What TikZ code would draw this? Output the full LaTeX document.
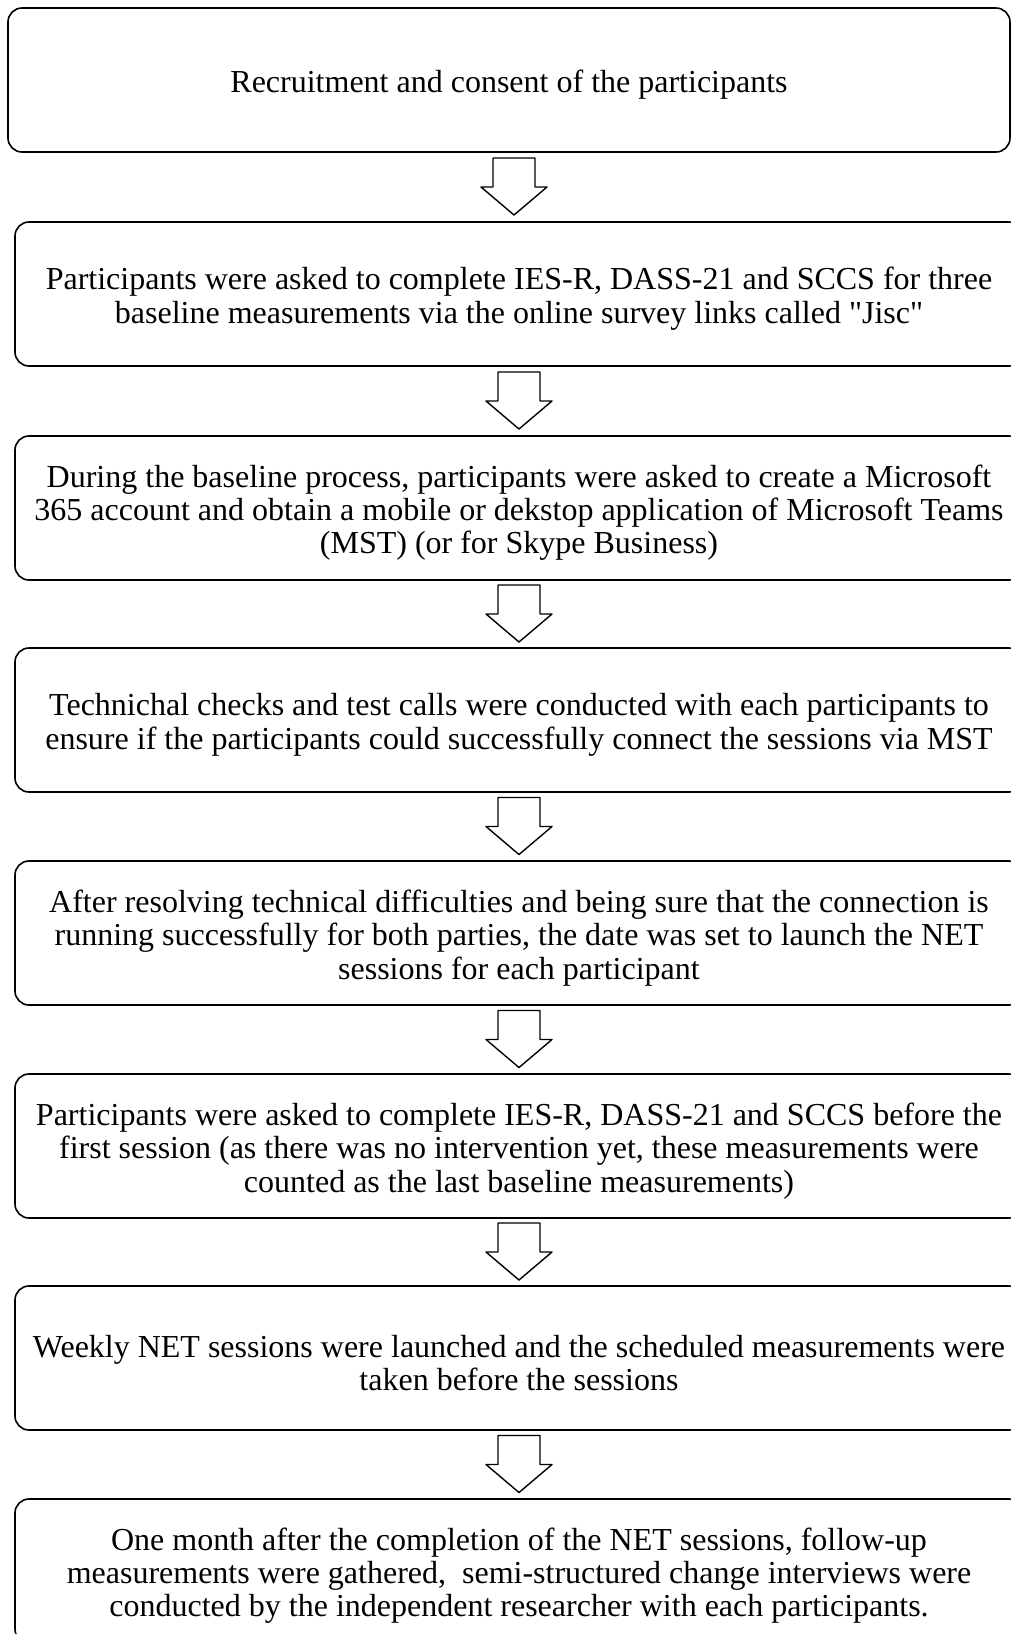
\documentclass[tikz,border=0pt]{standalone}
\usepackage{fontspec}
\setmainfont{Liberation Serif}[Ligatures=TeXOff]
\usetikzlibrary{calc, positioning}

\newcommand{\topgap}{\rule{0pt}{32pt}}
\tikzset{
  stepbox/.style={draw, line width=1.6pt, rounded corners=14pt, minimum width=1008pt, minimum height=144pt, align=center, inner sep=0pt, font=\fontsize{32}{33.4}\selectfont},
  blockarrow/.style={draw, line width=1.4pt, line join=round}
}

\begin{document}
\begin{tikzpicture}[x=1pt,y=-1pt]

            % Khung trang
            \useasboundingbox (0,0) rectangle (1011,1634);

            % Các bước
            \node[stepbox, minimum width=1002pt] (recruit) at (509,80) {\topgap Recruitment and consent of the participants};
            \node[stepbox] (baseline) at (519,294) {\topgap Participants were asked to complete IES-R, DASS-21 and SCCS for three\\ baseline measurements via the online survey links called "Jisc"};
            \node[stepbox] (account) at (519,508) {\topgap During the baseline process, participants were asked to create a Microsoft\\ 365 account and obtain a mobile or dekstop application of Microsoft Teams\\ (MST) (or for Skype Business)};
            \node[stepbox] (checks) at (519,720) {\topgap Technichal checks and test calls were conducted with each participants to\\ ensure if the participants could successfully connect the sessions via MST};
            \node[stepbox] (launch) at (519,933) {\topgap After resolving technical difficulties and being sure that the connection is\\ running successfully for both parties, the date was set to launch the NET\\ sessions for each participant};
            \node[stepbox] (prefirst) at (519,1146) {\topgap Participants were asked to complete IES-R, DASS-21 and SCCS before the\\ first session (as there was no intervention yet, these measurements were\\ counted as the last baseline measurements)};
            \node[stepbox] (weekly) at (519,1358) {\topgap Weekly NET sessions were launched and the scheduled measurements were\\ taken before the sessions};
            \node[stepbox] (followup) at (519,1571) {\topgap One month after the completion of the NET sessions, follow-up\\ measurements were gathered,\ \ semi-structured change interviews were\\ conducted by the independent researcher with each participants.};

            % Mũi tên khối giữa các bước
            \foreach \up/\down in {recruit/baseline, baseline/account, account/checks, checks/launch, launch/prefirst, prefirst/weekly, weekly/followup}
              \draw[blockarrow] ($(\up.south)!0.5!(\down.north)$) ++(-21,-29) -- ++(42,0) -- ++(0,29) -- ++(12,0) -- ++(-33,28) -- ++(-33,-28) -- ++(12,0) -- cycle;

\end{tikzpicture}
\end{document}
